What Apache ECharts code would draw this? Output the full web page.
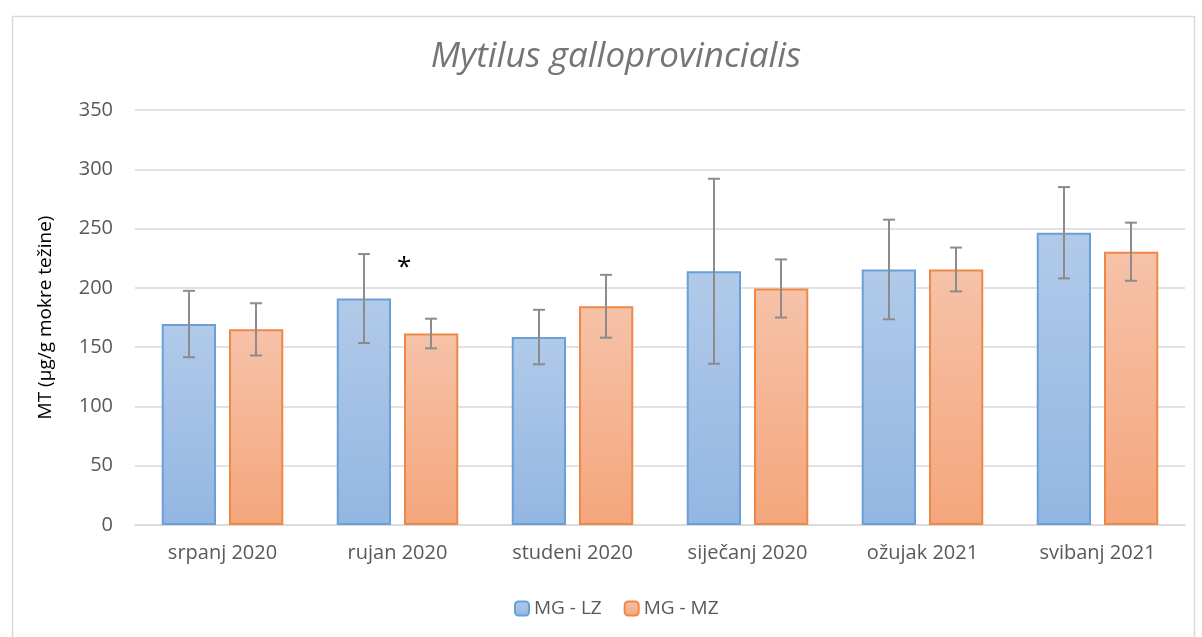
<!DOCTYPE html>
<html>
<head>
<meta charset="utf-8">
<script src="https://cdn.jsdelivr.net/npm/echarts@6/dist/echarts.min.js"></script>
<style>
  html,body{margin:0;padding:0;background:#fff;}
  #chart{width:1202px;height:637px;}
</style>
</head>
<body>
<div id="chart"></div>
<script>
"use strict";

// podaci
var categories = ['srpanj 2020','rujan 2020','studeni 2020','siječanj 2020','ožujak 2021','svibanj 2021'];
var lzMean = [169.5, 191, 158.5, 214, 215.5, 246.5];
var lzErr  = [28, 37.5, 23, 78, 42, 38.5];
var mzMean = [165, 161.5, 184.5, 199.5, 215.5, 230.5];
var mzErr  = [22, 12.5, 26.5, 24.5, 18.5, 24.5];
var yTicks = [0, 50, 100, 150, 200, 250, 300, 350];
var starAt = ['rujan 2020', 221];

var FONT = '"Open Sans", "Noto Sans", sans-serif';

function grad(top, bottom){
  return new echarts.graphic.LinearGradient(0,0,0,1,[{offset:0,color:top},{offset:1,color:bottom}]);
}

// custom series za error barove; side = -1 lijevo, +1 desno
function errSeries(mean, err, side){
  var data = mean.map(function(m,i){ return [i, m-err[i], m+err[i]]; });
  return {
    type:'custom',
    silent:true,
    z:5,
    data:data,
    renderItem:function(params, api){
      var band = api.size([1,0])[0];
      var dx = side*band*0.1915;
      var lo = api.coord([api.value(0), api.value(1)]);
      var hi = api.coord([api.value(0), api.value(2)]);
      var x = lo[0]+dx, cap = 6;
      var st = {stroke:'#8c8c8c', lineWidth:2};
      return {type:'group', children:[
        {type:'line', shape:{x1:x,y1:hi[1],x2:x,y2:lo[1]}, style:st},
        {type:'line', shape:{x1:x-cap,y1:hi[1],x2:x+cap,y2:hi[1]}, style:st},
        {type:'line', shape:{x1:x-cap,y1:lo[1],x2:x+cap,y2:lo[1]}, style:st}
      ]};
    }
  };
}

var chart = echarts.init(document.getElementById('chart'));
chart.setOption({
  animation:false,
  backgroundColor:'#fff',
  textStyle:{fontFamily:FONT},
  graphic:[{
    type:'rect', left:10, top:14, silent:true,
    shape:{width:1182, height:640},
    style:{fill:'none', stroke:'#d9d9d9', lineWidth:1.5}
  }],
  title:{
    text:'Mytilus galloprovincialis',
    left:611, top:35, textAlign:'center',
    textStyle:{fontFamily:FONT, fontStyle:'italic', fontWeight:'normal', fontSize:35, color:'#757575'}
  },
  legend:{
    bottom:14, left:509,
    itemWidth:14, itemHeight:14, itemGap:22,
    textStyle:{fontFamily:FONT, fontSize:19, color:'#595959'},
    data:['MG - LZ','MG - MZ']
  },
  grid:{left:135, right:17, top:110, bottom:112},
  xAxis:{
    type:'category',
    data:categories,
    axisTick:{show:false},
    axisLine:{lineStyle:{color:'#d9d9d9', width:1.5}},
    axisLabel:{fontFamily:FONT, fontSize:20, color:'#595959', margin:18}
  },
  yAxis:{
    type:'value',
    min:yTicks[0], max:yTicks[yTicks.length-1], interval:50,
    name:'MT (μg/g mokre težine)',
    nameLocation:'middle', nameGap:80,
    nameTextStyle:{fontFamily:FONT, fontSize:19, color:'#000'},
    axisLine:{show:false},
    axisTick:{show:false},
    axisLabel:{fontFamily:FONT, fontSize:20, color:'#595959', margin:22},
    splitLine:{lineStyle:{color:'#d9d9d9', width:1.5}}
  },
  series:[
    {
      name:'MG - LZ', type:'bar', data:lzMean,
      barWidth:'31%', barGap:'24%',
      itemStyle:{color:grad('#b1cae9','#93b6e2'), borderColor:'#6a9fd8', borderWidth:2}
    },
    {
      name:'MG - MZ', type:'bar', data:mzMean,
      barWidth:'31%', barGap:'24%',
      itemStyle:{color:grad('#f6c2a8','#f4a67c'), borderColor:'#ee8846', borderWidth:2},
      markPoint:{
        symbol:'circle', symbolSize:0, silent:true,
        label:{show:true, position:'inside', offset:[-27,5], formatter:'*',
          fontFamily:FONT, fontSize:26, color:'#000'},
        data:[{coord:starAt}]
      }
    },
    errSeries(lzMean, lzErr, -1),
    errSeries(mzMean, mzErr, 1)
  ]
});
</script>
</body>
</html>
